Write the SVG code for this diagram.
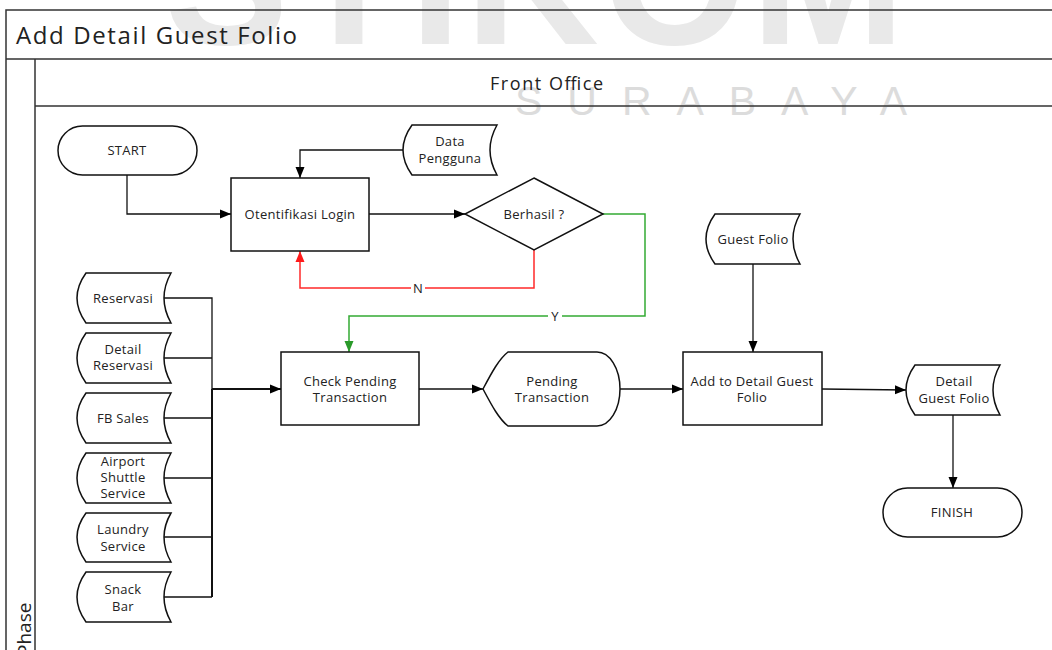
<svg xmlns="http://www.w3.org/2000/svg" width="1052" height="650" viewBox="0 0 1052 650">
  <defs>
    <style>
      .frame { fill: none; stroke: #333; stroke-width: 1.5; }
      .node { fill: #fff; stroke: #111; stroke-width: 1.5; }
      .lbl { font-family: "Open Sans", "Liberation Sans", sans-serif; font-size: 13px; letter-spacing: 0.3px; fill: #222; text-anchor: middle; }
      .head { font-family: "Open Sans", "Liberation Sans", sans-serif; fill: #222; }
      .wire { fill: none; stroke: #111; stroke-width: 1.3; }
      .bus { fill: none; stroke: #111; stroke-width: 2; }
      .no { fill: none; stroke: #ff2a2a; stroke-width: 1.5; }
      .yes { fill: none; stroke: #33aa33; stroke-width: 1.5; }
      .wm { font-family: "Liberation Sans", "DejaVu Sans", sans-serif; }
    </style>
    <marker id="arrow" markerUnits="userSpaceOnUse" markerWidth="12" markerHeight="12" viewBox="0 0 12 12" refX="11" refY="6" orient="auto">
      <path d="M0,1.5 L11,6 L0,10.5 Z" fill="#000"/>
    </marker>
    <marker id="arrowRed" markerUnits="userSpaceOnUse" markerWidth="12" markerHeight="12" viewBox="0 0 12 12" refX="11" refY="6" orient="auto">
      <path d="M0,1.5 L11,6 L0,10.5 Z" fill="#ff1a1a"/>
    </marker>
    <marker id="arrowGreen" markerUnits="userSpaceOnUse" markerWidth="12" markerHeight="12" viewBox="0 0 12 12" refX="11" refY="6" orient="auto">
      <path d="M0,1.5 L11,6 L0,10.5 Z" fill="#2a9a2a"/>
    </marker>
  </defs>

  <rect x="0" y="0" width="1052" height="650" fill="#fff"/>

  <!-- watermark -->
  <g id="watermark">
    <text class="wm" x="165" y="44" font-size="185" font-weight="bold" fill="#e9e9e9" textLength="740" lengthAdjust="spacing">STIKOM</text>
    <text class="wm" x="515" y="115" font-size="41" fill="#dcdcdc" textLength="392" lengthAdjust="spacing">SURABAYA</text>
  </g>

  <!-- swimlane frame -->
  <g id="frame">
    <path class="frame" d="M6,650 L6,10 L1052,10 M6,59 L1052,59 M35,59 L35,650 M35,106 L1052,106"/>
    <text class="head" x="16" y="44" font-size="24" textLength="281" lengthAdjust="spacing">Add Detail Guest Folio</text>
    <text class="head" x="490" y="90" font-size="18" textLength="113" lengthAdjust="spacing">Front Office</text>
    <text class="head" transform="translate(31,656) rotate(-90)" font-size="19">Phase</text>
  </g>

  <!-- connectors -->
  <g id="connectors">
    <path class="wire" d="M127,175 L127,214 L231,214" marker-end="url(#arrow)"/>
    <path class="wire" d="M403,150 L300,150 L300,178" marker-end="url(#arrow)"/>
    <path class="wire" d="M369,214 L465,214" marker-end="url(#arrow)"/>
    <path class="no" d="M534,250 L534,288 L300,288 L300,251" marker-end="url(#arrowRed)"/>
    <path class="yes" d="M603,214 L645,214 L645,316 L349,316 L349,352" marker-end="url(#arrowGreen)"/>
    <rect x="411" y="280" width="14" height="16" fill="#fff"/>
    <text class="lbl" x="418" y="293">N</text>
    <rect x="548" y="308" width="14" height="16" fill="#fff"/>
    <text class="lbl" x="555" y="321">Y</text>

    <path class="wire" d="M164,298 L212,298 L212,389 M164,358 L212,358"/>
    <path class="wire" d="M164,418 L212,418 M164,478 L212,478 M164,537 L212,537 M164,597 L212,597"/>
    <path class="bus" d="M212,389 L212,597"/>
    <path class="bus" d="M212,389 L281,389" marker-end="url(#arrow)"/>

    <path class="wire" d="M419,389 L483,389" marker-end="url(#arrow)"/>
    <path class="wire" d="M620,389 L683,389" marker-end="url(#arrow)"/>
    <path class="wire" d="M753,264 L753,352" marker-end="url(#arrow)"/>
    <path class="wire" d="M822,389 L906,390" marker-end="url(#arrow)"/>
    <path class="wire" d="M953,415 L953,488" marker-end="url(#arrow)"/>
  </g>

  <!-- nodes -->
  <g id="start">
    <rect class="node" x="58" y="126" width="139" height="49" rx="24.5"/>
    <text class="lbl" x="127" y="155">START</text>
  </g>

  <g id="otentifikasi-login">
    <rect class="node" x="231" y="178" width="138" height="73"/>
    <text class="lbl" x="300" y="219">Otentifikasi Login</text>
  </g>

  <g id="data-pengguna">
    <path class="node" d="M412,125 L497,125 Q483,150 497,175 L412,175 Q394,150 412,125 Z"/>
    <text class="lbl" x="450" y="146">Data</text>
    <text class="lbl" x="450" y="163">Pengguna</text>
  </g>

  <g id="berhasil">
    <path class="node" d="M534,178 L603,214 L534,250 L465,214 Z"/>
    <text class="lbl" x="534" y="219">Berhasil ?</text>
  </g>

  <g id="reservasi">
    <path class="node" d="M86,273 L171,273 Q157,298 171,323 L86,323 Q68,298 86,273 Z"/>
    <text class="lbl" x="123" y="303">Reservasi</text>
  </g>

  <g id="detail-reservasi">
    <path class="node" d="M86,333 L171,333 Q157,358 171,383 L86,383 Q68,358 86,333 Z"/>
    <text class="lbl" x="123" y="354">Detail</text>
    <text class="lbl" x="123" y="370">Reservasi</text>
  </g>

  <g id="fb-sales">
    <path class="node" d="M86,393 L171,393 Q157,418 171,443 L86,443 Q68,418 86,393 Z"/>
    <text class="lbl" x="123" y="423">FB Sales</text>
  </g>

  <g id="airport-shuttle-service">
    <path class="node" d="M86,453 L171,453 Q157,478 171,503 L86,503 Q68,478 86,453 Z"/>
    <text class="lbl" x="123" y="466">Airport</text>
    <text class="lbl" x="123" y="482">Shuttle</text>
    <text class="lbl" x="123" y="498">Service</text>
  </g>

  <g id="laundry-service">
    <path class="node" d="M86,513 L171,513 Q157,537 171,562 L86,562 Q68,537 86,513 Z"/>
    <text class="lbl" x="123" y="534">Laundry</text>
    <text class="lbl" x="123" y="551">Service</text>
  </g>

  <g id="snack-bar">
    <path class="node" d="M86,572 L171,572 Q157,597 171,622 L86,622 Q68,597 86,572 Z"/>
    <text class="lbl" x="123" y="594">Snack</text>
    <text class="lbl" x="123" y="611">Bar</text>
  </g>

  <g id="check-pending-transaction">
    <rect class="node" x="281" y="352" width="138" height="73"/>
    <text class="lbl" x="350" y="386">Check Pending</text>
    <text class="lbl" x="350" y="402">Transaction</text>
  </g>

  <g id="pending-transaction">
    <path class="node" d="M483,389 C492,372 499,359 508,352 L597,352 A23,37 0 0 1 597,426 L508,426 C499,419 492,406 483,389 Z"/>
    <text class="lbl" x="552" y="386">Pending</text>
    <text class="lbl" x="552" y="402">Transaction</text>
  </g>

  <g id="guest-folio">
    <path class="node" d="M715,214 L800,214 Q786,239 800,264 L715,264 Q697,239 715,214 Z"/>
    <text class="lbl" x="753" y="244">Guest Folio</text>
  </g>

  <g id="add-detail-guest-folio">
    <rect class="node" x="683" y="352" width="139" height="73"/>
    <text class="lbl" x="752" y="386">Add to Detail Guest</text>
    <text class="lbl" x="752" y="402">Folio</text>
  </g>

  <g id="detail-guest-folio">
    <path class="node" d="M915,365 L1000,365 Q986,390 1000,415 L915,415 Q897,390 915,365 Z"/>
    <text class="lbl" x="954" y="386">Detail</text>
    <text class="lbl" x="954" y="403">Guest Folio</text>
  </g>

  <g id="finish">
    <rect class="node" x="883" y="488" width="139" height="49" rx="24.5"/>
    <text class="lbl" x="952" y="517">FINISH</text>
  </g>
</svg>
